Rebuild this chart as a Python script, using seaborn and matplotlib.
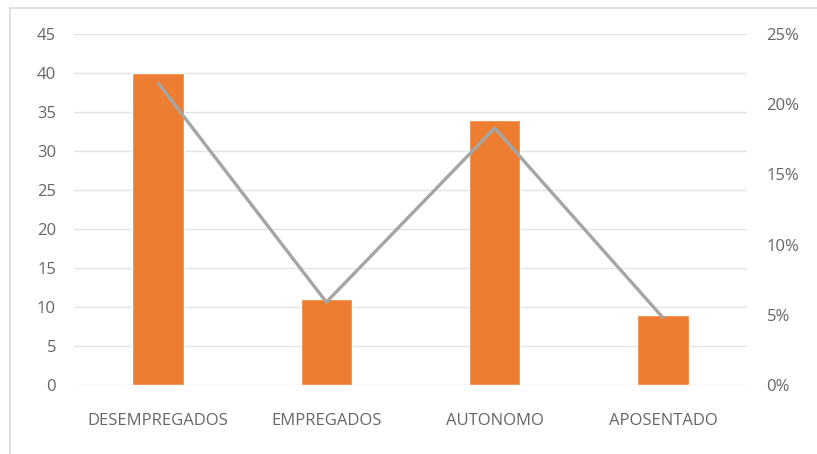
import numpy as np
import pandas as pd
import matplotlib
matplotlib.use("Agg")
import matplotlib.pyplot as plt
import seaborn as sns
from matplotlib.patches import Rectangle
from matplotlib.ticker import PercentFormatter

categories = ["DESEMPREGADOS", "EMPREGADOS", "AUTONOMO", "APOSENTADO"]
counts = [40, 11, 34, 9]
percents = [21.5, 5.9, 18.3, 4.8]

sns.set_theme(style="white")
plt.rcParams["font.family"] = ["Open Sans", "DejaVu Sans"]

df = pd.DataFrame({"cat": categories, "n": counts, "pct": percents, "pos": np.arange(len(categories))})

fig = plt.figure(figsize=(8.17, 4.54), dpi=100)
fig.patch.set_facecolor("white")
ax = fig.add_axes([74 / 817, 1 - 385 / 454, 673 / 817, 351 / 454])

# light frame around the chart area
fig.patches.append(Rectangle((10 / 817, -0.05), 1.2, 1 - 8 / 454 + 0.05,
                             transform=fig.transFigure, fill=False,
                             edgecolor="#d9d9d9", linewidth=1.2))

sns.barplot(data=df, x="cat", y="n", color="#ED7D31", saturation=1,
            width=0.305, ax=ax)
ax.set_ylim(0, 45)
ax.set_yticks(range(0, 50, 5))
ax.yaxis.grid(True, color="#e3e3e3", linewidth=1)
ax.set_axisbelow(True)
ax.set_xlabel("")
ax.set_ylabel("")
ax.set_xlim(-0.5, 3.5)
for s in ax.spines.values():
    s.set_visible(False)
ax.tick_params(axis="y", length=0, pad=13, labelsize=12, labelcolor="#666666")
ax.tick_params(axis="x", length=0, pad=20, labelsize=12, labelcolor="#666666")

ax2 = ax.twinx()
sns.lineplot(data=df, x="pos", y="pct", color="#A5A5A5", linewidth=2.4, ax=ax2)
ax2.set_ylim(0, 25)
ax2.set_yticks(range(0, 30, 5))
ax2.yaxis.set_major_formatter(PercentFormatter(decimals=0))
ax2.set_xlim(-0.5, 3.5)
ax2.set_ylabel("")
ax2.set_xlabel("")
for s in ax2.spines.values():
    s.set_visible(False)
ax2.tick_params(axis="y", length=0, pad=14, labelsize=12, labelcolor="#666666")

fig.savefig("out.png", dpi=100)
